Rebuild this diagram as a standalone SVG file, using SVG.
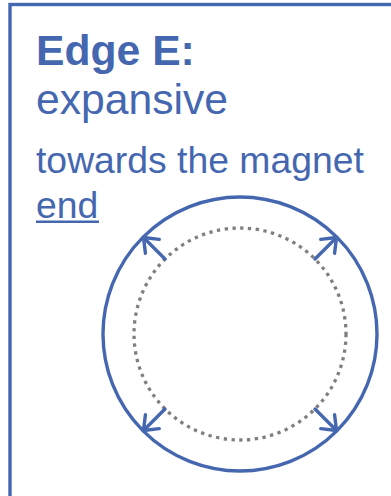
<svg xmlns="http://www.w3.org/2000/svg" width="391" height="496" viewBox="0 0 391 496">
  <style>
    .txt { fill: #4567B0; font-family: "Liberation Sans", Arial, sans-serif; }
    .big { font-size: 42.67px; }
    .bold { font-weight: bold; }
    .mid { font-size: 37.33px; }
    .blue { fill: none; stroke: #4567B0; stroke-width: 3.4; }
    .dots { fill: none; stroke: #7F7F7F; stroke-width: 3.3; stroke-dasharray: 3.3 4.5; }
    .arrow { fill: none; stroke: #4567B0; stroke-width: 3.4; stroke-linecap: round; marker-end: url(#head); }
  </style>
  <defs>
    <marker id="head" markerUnits="userSpaceOnUse" viewBox="-16 -12 20 24" markerWidth="20" markerHeight="24" refX="0" refY="0" orient="auto" overflow="visible">
      <path d="M-12.5,-9.8 L0,0 L-12.5,9.8" fill="none" stroke="#4567B0" stroke-width="3.4" stroke-linecap="round" stroke-linejoin="round"/>
    </marker>
  </defs>
  <rect width="391" height="496" fill="#FFFFFF"/>
  <g id="panel">
    <rect x="10" y="4.5" width="420" height="540" class="blue"/>
    <text class="txt big bold" x="36" y="64.5">Edge E:</text>
    <text class="txt big" x="36" y="113.5">expansive</text>
    <text class="txt mid" x="36" y="172.5">towards the magnet</text>
    <text class="txt mid" x="36" y="217.5">end</text>
    <rect x="36" y="220.5" width="63" height="2.5" fill="#4567B0"/>
  </g>
  <g id="outer-circle">
    <circle cx="240" cy="334" r="137" class="blue"/>
  </g>
  <g id="dotted-circle">
    <circle cx="240" cy="334" r="106" class="dots"/>
  </g>
  <g id="connectors">
    <line x1="165" y1="259" x2="143.5" y2="237.5" class="arrow"/>
    <line x1="315" y1="259" x2="336.5" y2="237.5" class="arrow"/>
    <line x1="165" y1="409" x2="143.5" y2="430.5" class="arrow"/>
    <line x1="315" y1="409" x2="336.5" y2="430.5" class="arrow"/>
  </g>
</svg>
